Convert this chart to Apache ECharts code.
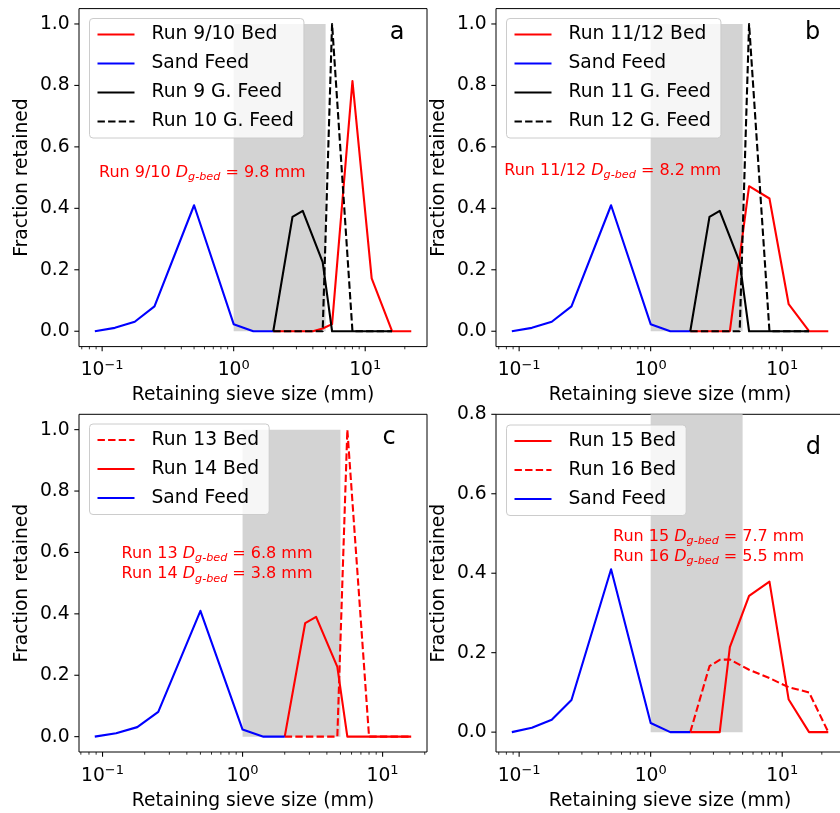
<!DOCTYPE html>
<html>
<head>
<meta charset="utf-8">
<script src="https://cdn.jsdelivr.net/npm/echarts@6/dist/echarts.min.js"></script>
<style>
  html, body { margin: 0; padding: 0; background: #fff; }
  #chart { width: 840px; height: 813px; }
</style>
</head>
<body>
<div id="chart"></div>
<script>
// ---- Sieve data (retaining sieve size in mm, fraction retained) ----
const sandSizes = [0.088, 0.125, 0.177, 0.25, 0.5, 1.0, 1.41, 2.0];
const sandFeed  = [0.0, 0.011, 0.031, 0.081, 0.41, 0.023, 0.0, 0.0];

const gravelFeedSizes = [2.0, 2.8, 3.35, 4.75, 5.6, 8.0, 11.2, 16];
const run9Feed  = [0, 0.372, 0.392, 0.225, 0, 0, 0, 0];
const run10Feed = [0, 0, 0, 0, 1.0, 0, 0, 0];
const run11Feed = [0, 0.372, 0.392, 0.225, 0, 0, 0, 0];
const run12Feed = [0, 0, 0, 0, 1.0, 0, 0, 0];

const run910BedSizes = [2.0, 2.8, 4.0, 4.75, 5.6, 8.0, 11.2, 16, 22.4];
const run910Bed      = [0, 0, 0, 0.009, 0.023, 0.814, 0.172, 0, 0];

const run1112BedSizes = [2.0, 2.8, 4.0, 5.6, 8.0, 11.2, 16, 22.4];
const run1112Bed      = [0, 0, 0, 0.472, 0.432, 0.088, 0, 0];

const run1314BedSizes = [2.0, 2.8, 3.35, 4.75, 5.6, 8.0, 11.2, 16];
const run13Bed = [0, 0, 0, 0, 1.0, 0, 0, 0];
const run14Bed = [0, 0.37, 0.39, 0.227, 0, 0, 0, 0];

const run1516BedSizes = [2.0, 2.8, 3.35, 4.0, 5.6, 8.0, 11.2, 16, 22.4];
const run15Bed = [0, 0, 0, 0.214, 0.343, 0.379, 0.082, 0, 0];
const run16Bed = [0, 0.166, 0.182, 0.183, 0.157, 0.136, 0.113, 0.10, 0];

// Shaded gravel-size band (mm) and its vertical extent (fraction)
const gravelBand = [1.0, 5.0];
const bandHeight = [0, 1.0];

// Axis ticks
const xTickValues = [0.1, 1, 10];
const xTickExponents = ['\u22121', '0', '1'];
const yTicksFull  = [0, 0.2, 0.4, 0.6, 0.8, 1.0];
const yTicksShort = [0, 0.2, 0.4, 0.6, 0.8];

// Geometric mean bed sizes (mm)
const dgBed = { '9/10': '9.8', '11/12': '8.2', '13': '6.8', '14': '3.8', '15': '7.7', '16': '5.5' };

const FONT = 'DejaVu Sans';
const RED = '#ff0000', BLUE = '#0000ff', BLACK = '#000000';
const DASH = [7.4, 3.2];
const LINE_W = 2.1;

const pairs = (xs, ys) => xs.map((x, i) => [x, ys[i]]);

const panels = [
  {
    letter: 'a', letterPos: [397, 32.8],
    grid: { left: 79, top: 8.6, width: 348, height: 338 },
    x: [0.0667, 29.5], y: [-0.05, 1.05], yTicks: yTicksFull,
    legendPos: [89.5, 18.5],
    series: [
      { name: 'Run 9/10 Bed', data: pairs(run910BedSizes, run910Bed), color: RED, dashed: false },
      { name: 'Sand Feed', data: pairs(sandSizes, sandFeed), color: BLUE, dashed: false },
      { name: 'Run 9 G. Feed', data: pairs(gravelFeedSizes, run9Feed), color: BLACK, dashed: false },
      { name: 'Run 10 G. Feed', data: pairs(gravelFeedSizes, run10Feed), color: BLACK, dashed: true }
    ],
    notes: [{ run: '9/10', pos: [99, 173] }]
  },
  {
    letter: 'b', letterPos: [812.5, 32.8],
    grid: { left: 496, top: 8.6, width: 348, height: 338 },
    x: [0.0667, 29.5], y: [-0.05, 1.05], yTicks: yTicksFull,
    legendPos: [506.5, 18.5],
    series: [
      { name: 'Run 11/12 Bed', data: pairs(run1112BedSizes, run1112Bed), color: RED, dashed: false },
      { name: 'Sand Feed', data: pairs(sandSizes, sandFeed), color: BLUE, dashed: false },
      { name: 'Run 11 G. Feed', data: pairs(gravelFeedSizes, run11Feed), color: BLACK, dashed: false },
      { name: 'Run 12 G. Feed', data: pairs(gravelFeedSizes, run12Feed), color: BLACK, dashed: true }
    ],
    notes: [{ run: '11/12', pos: [504.3, 170.5] }]
  },
  {
    letter: 'c', letterPos: [389.2, 437.8],
    grid: { left: 79, top: 414.3, width: 348, height: 337.7 },
    x: [0.0679, 20.75], y: [-0.05, 1.05], yTicks: yTicksFull,
    legendPos: [89.5, 424],
    series: [
      { name: 'Run 13 Bed', data: pairs(run1314BedSizes, run13Bed), color: RED, dashed: true },
      { name: 'Run 14 Bed', data: pairs(run1314BedSizes, run14Bed), color: RED, dashed: false },
      { name: 'Sand Feed', data: pairs(sandSizes, sandFeed), color: BLUE, dashed: false }
    ],
    notes: [{ run: '13', pos: [121.5, 553.8] }, { run: '14', pos: [121.5, 574.2] }]
  },
  {
    letter: 'd', letterPos: [813.3, 447.8],
    grid: { left: 496, top: 414.3, width: 348, height: 337.7 },
    x: [0.0667, 29.5], y: [-0.05, 0.8], yTicks: yTicksShort,
    legendPos: [506.5, 425],
    series: [
      { name: 'Run 15 Bed', data: pairs(run1516BedSizes, run15Bed), color: RED, dashed: false },
      { name: 'Run 16 Bed', data: pairs(run1516BedSizes, run16Bed), color: RED, dashed: true },
      { name: 'Sand Feed', data: pairs(sandSizes, sandFeed), color: BLUE, dashed: false }
    ],
    notes: [{ run: '15', pos: [613, 537] }, { run: '16', pos: [613, 557] }]
  }
];

// minor tick positions on a log axis: 2..9 x 10^k inside the range
function minorTicks(lo, hi) {
  const out = [];
  for (let k = -3; k <= 3; k++) {
    for (let m = 2; m <= 9; m++) {
      const v = m * Math.pow(10, k);
      if (v >= lo && v <= hi) out.push(v);
    }
  }
  return out;
}

const option = {
  animation: false,
  backgroundColor: '#ffffff',
  textStyle: { fontFamily: FONT },
  grid: [], xAxis: [], yAxis: [], series: [], legend: [], graphic: []
};

const tickText = { fontFamily: FONT, fill: '#000', color: '#000' };

panels.forEach((p, i) => {
  option.grid.push(Object.assign({
    show: true, borderColor: '#000', borderWidth: 1, backgroundColor: 'transparent',
    containLabel: false, outerBoundsMode: 'none'
  }, p.grid));

  option.xAxis.push({
    type: 'log', logBase: 10, gridIndex: i, min: p.x[0], max: p.x[1],
    axisLine: { show: false }, axisTick: { show: false }, axisLabel: { show: false },
    splitLine: { show: false }, minorTick: { show: false }
  });
  option.yAxis.push({
    type: 'value', gridIndex: i, min: p.y[0], max: p.y[1],
    axisLine: { show: false }, axisTick: { show: false }, axisLabel: { show: false },
    splitLine: { show: false }
  });

  // shaded band
  option.series.push({
    type: 'custom', xAxisIndex: i, yAxisIndex: i, z: 1, clip: true, silent: true,
    data: [[gravelBand[0], bandHeight[0], gravelBand[1], bandHeight[1]]],
    encode: { x: [0, 2], y: [1, 3] },
    renderItem: (params, api) => {
      const p0 = api.coord([api.value(0), api.value(1)]);
      const p1 = api.coord([api.value(2), api.value(3)]);
      return {
        type: 'rect',
        shape: { x: p0[0], y: p1[1], width: p1[0] - p0[0], height: p0[1] - p1[1] },
        style: { fill: '#d3d3d3' }
      };
    }
  });

  // data lines
  p.series.forEach(s => {
    option.series.push({
      type: 'line', name: s.name, xAxisIndex: i, yAxisIndex: i, z: 2,
      data: s.data, symbol: 'none', showSymbol: false, smooth: false,
      lineStyle: { color: s.color, width: LINE_W, type: s.dashed ? DASH : 'solid', join: 'round' },
      itemStyle: { color: s.color },
      emphasis: { disabled: true }
    });
  });

  // x major ticks + labels
  option.series.push({
    type: 'custom', xAxisIndex: i, yAxisIndex: i, z: 3, clip: false, silent: true,
    data: xTickValues.map(v => [v, p.y[0]]),
    renderItem: (params, api) => {
      const pt = api.coord([api.value(0), api.value(1)]);
      const exp = xTickExponents[params.dataIndex];
      return {
        type: 'group',
        children: [
          { type: 'line', shape: { x1: pt[0], y1: pt[1], x2: pt[0], y2: pt[1] + 4.7 },
            style: { stroke: '#000', lineWidth: 1.07 } },
          { type: 'text', x: pt[0], y: pt[1] + 23.7,
            style: {
              text: '{m|10}{s|' + exp + '}',
              align: 'center', verticalAlign: 'middle',
              textAlign: 'center', textVerticalAlign: 'middle',
              rich: {
                m: Object.assign({ fontSize: 18.7, lineHeight: 20, verticalAlign: 'middle' }, tickText),
                s: Object.assign({ fontSize: 13, lineHeight: 13, padding: [0, 0, 10, 0], verticalAlign: 'middle' }, tickText)
              }
            } }
        ]
      };
    }
  });

  // x minor ticks
  option.series.push({
    type: 'custom', xAxisIndex: i, yAxisIndex: i, z: 3, clip: false, silent: true,
    data: minorTicks(p.x[0], p.x[1]).map(v => [v, p.y[0]]),
    renderItem: (params, api) => {
      const pt = api.coord([api.value(0), api.value(1)]);
      return { type: 'line', shape: { x1: pt[0], y1: pt[1], x2: pt[0], y2: pt[1] + 2.7 },
        style: { stroke: '#000', lineWidth: 0.8 } };
    }
  });

  // y ticks + labels
  option.series.push({
    type: 'custom', xAxisIndex: i, yAxisIndex: i, z: 3, clip: false, silent: true,
    data: p.yTicks.map(v => [p.x[0], v]),
    renderItem: (params, api) => {
      const pt = api.coord([api.value(0), api.value(1)]);
      return {
        type: 'group',
        children: [
          { type: 'line', shape: { x1: pt[0], y1: pt[1], x2: pt[0] - 4.7, y2: pt[1] },
            style: { stroke: '#000', lineWidth: 1.07 } },
          { type: 'text', x: pt[0] - 9.4, y: pt[1],
            style: Object.assign({
              text: api.value(1).toFixed(1), fontSize: 18.7,
              align: 'right', verticalAlign: 'middle',
              textAlign: 'right', textVerticalAlign: 'middle'
            }, tickText) }
        ]
      };
    }
  });

  option.legend.push({
    data: p.series.map(s => s.name),
    orient: 'vertical', left: p.legendPos[0], top: p.legendPos[1],
    itemWidth: 37, itemHeight: 19, itemGap: 10,
    padding: [6.5, 10, 7, 7],
    backgroundColor: 'rgba(255,255,255,0.8)',
    borderColor: '#cccccc', borderWidth: 1, borderRadius: 3.5,
    selectedMode: false,
    itemStyle: { opacity: 0 },
    lineStyle: { opacity: 1 },
    textStyle: { fontFamily: FONT, fontSize: 18.7, color: '#000', lineHeight: 19, padding: [0, 0, 0, 12] }
  });

  // panel letter
  option.graphic.push({
    type: 'text', x: p.letterPos[0], y: p.letterPos[1], z: 10,
    style: { text: p.letter, fontFamily: FONT, fontSize: 24, fill: '#000',
      align: 'center', verticalAlign: 'middle', textAlign: 'center', textVerticalAlign: 'middle' }
  });

  // axis titles
  const g = p.grid;
  option.graphic.push({
    type: 'text', x: g.left + g.width / 2, y: g.top + g.height + 49,
    style: { text: 'Retaining sieve size (mm)', fontFamily: FONT, fontSize: 18.7, fill: '#000',
      align: 'center', verticalAlign: 'middle', textAlign: 'center', textVerticalAlign: 'middle' }
  });
  option.graphic.push({
    type: 'text', x: g.left - 56.5, y: g.top + g.height / 2, rotation: Math.PI / 2,
    style: { text: 'Fraction retained', fontFamily: FONT, fontSize: 18.7, fill: '#000',
      align: 'center', verticalAlign: 'middle', textAlign: 'center', textVerticalAlign: 'middle' }
  });

  // D_g-bed annotations
  p.notes.forEach(n => {
    const base = { fontFamily: FONT, fill: RED, color: RED, verticalAlign: 'middle' };
    option.graphic.push({
      type: 'text', x: n.pos[0], y: n.pos[1], z: 10,
      style: {
        text: '{n|Run ' + n.run + ' }{i|D}{s|g-bed}{n| = ' + dgBed[n.run] + ' mm}',
        align: 'left', verticalAlign: 'middle', textAlign: 'left', textVerticalAlign: 'middle',
        rich: {
          n: Object.assign({ fontSize: 16, lineHeight: 20 }, base),
          i: Object.assign({ fontSize: 16, lineHeight: 20, fontStyle: 'italic' }, base),
          s: Object.assign({ fontSize: 11.2, lineHeight: 12, fontStyle: 'italic', padding: [9, 0, 0, 0] }, base)
        }
      }
    });
  });
});

const chart = echarts.init(document.getElementById('chart'), null, { renderer: 'canvas' });
chart.setOption(option);
</script>
</body>
</html>
